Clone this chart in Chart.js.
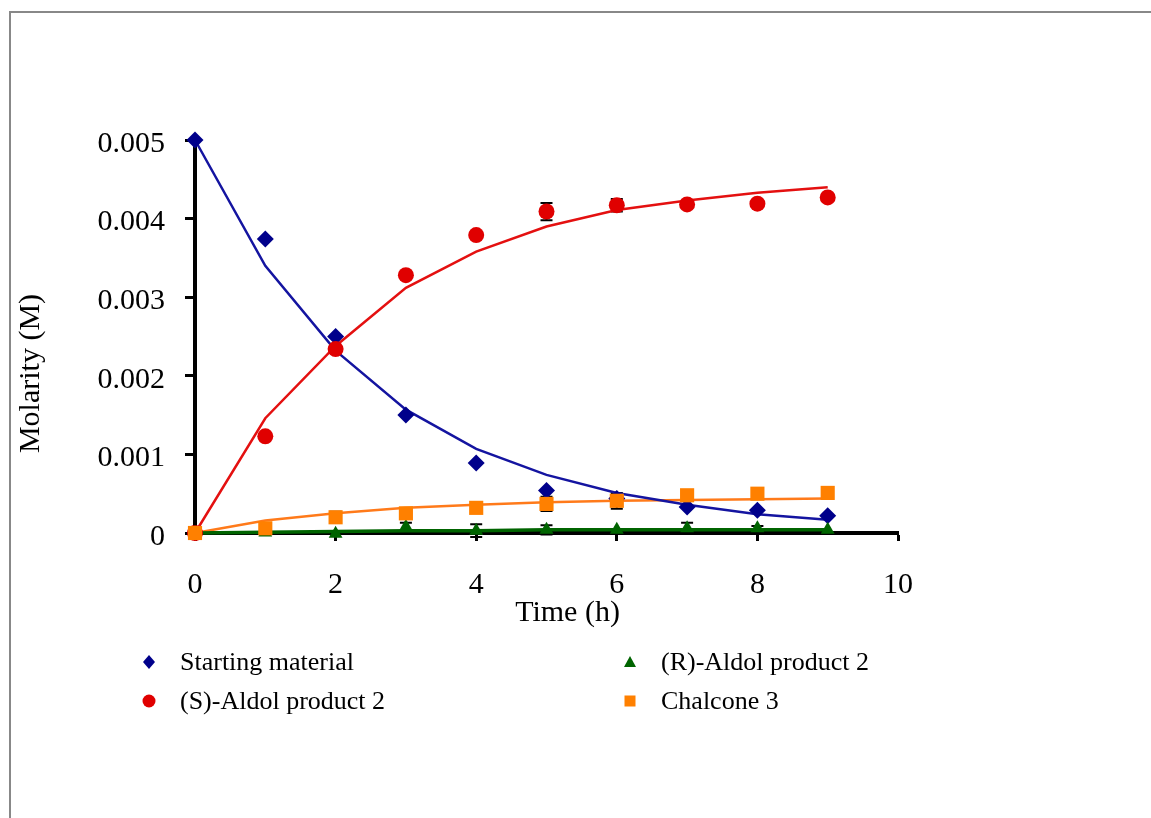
<!DOCTYPE html>
<html>
<head>
<meta charset="utf-8">
<script src="https://cdn.jsdelivr.net/npm/chart.js@4.4.1/dist/chart.umd.min.js"></script>
<style>
  html, body { margin:0; padding:0; background:#fff; overflow:hidden; width:1151px; height:818px; }
  #wrap { position:relative; width:1151px; height:818px; overflow:hidden; }
  #frame { position:absolute; left:9px; top:11px; width:1300px; height:1000px;
           border-left:2px solid #888; border-top:2px solid #888; }
  canvas { position:absolute; left:0; top:0; }
  .lg { position:absolute; font-family:'Liberation Serif','Times New Roman',serif; font-size:26px;
        color:#000; white-space:nowrap; line-height:30px; height:30px; }
  .lg svg { position:absolute; top:0; }
  .lg span { position:absolute; left:0; top:0; }
</style>
</head>
<body>
<div id="wrap">
  <div id="frame"></div>
  <canvas id="c" width="1151" height="818"></canvas>
  <div id="legend"></div>
</div>
<script>
// ---------------- data ----------------
const timeH = [0, 1, 2, 3, 4, 5, 6, 7, 8, 9];
const xTickLabels = ['0', '2', '4', '6', '8', '10'];
const yTickLabels = ['0', '0.001', '0.002', '0.003', '0.004', '0.005'];
const seriesNames = ['Starting material', '(S)-Aldol product 2', '(R)-Aldol product 2', 'Chalcone 3'];

const startingMaterial    = [0.00500, 0.00374, 0.00250, 0.00150, 0.00089, 0.00054, 0.00044, 0.00033, 0.00029, 0.00022];
const startingMaterialFit = [0.00500, 0.00340, 0.00232, 0.00157, 0.00107, 0.00074, 0.00051, 0.00036, 0.00024, 0.00017];
const startingMaterialErr = [0, 0, 0, 0, 0, 0, 0, 0, 0, 0];

const sAldol    = [0, 0.00123, 0.00234, 0.00328, 0.00379, 0.00409, 0.00417, 0.00418, 0.00419, 0.00427];
const sAldolFit = [0, 0.00146, 0.00238, 0.00312, 0.00358, 0.00390, 0.00411, 0.00423, 0.00433, 0.00440];
const sAldolErr = [0, 0, 0, 0, 0, 0.00011, 0.00008, 0, 0, 0];

const rAldol    = [0, 0.000005, -0.00001, 0.00008, 0.00003, 0.00004, 0.00004, 0.00006, 0.00006, 0.00004];
const rAldolFit = [0, 0.00001, 0.00002, 0.00003, 0.00003, 0.00004, 0.00004, 0.00004, 0.00004, 0.00004];
const rAldolErr = [0, 0, 0, 0.00005, 0.00008, 0.00006, 0, 0.00007, 0.00003, 0];

const chalcone    = [0, 0.00006, 0.00020, 0.00025, 0.00032, 0.00037, 0.00041, 0.00048, 0.00050, 0.00051];
const chalconeFit = [0, 0.00016, 0.00025, 0.00032, 0.00036, 0.00039, 0.00041, 0.00042, 0.00043, 0.00044];
const chalconeErr = [0, 0, 0.00007, 0, 0, 0.00009, 0.00010, 0, 0, 0];

// ---------------- styles ----------------
const FONT = "'Liberation Serif', 'Times New Roman', serif";
const markerColors = ['#00008B', '#E00000', '#006400', '#FF8000'];
const lineColors   = ['#1414A0', '#E41010', '#006400', '#FF7A1A'];
const lineWidths   = [2.5, 2.5, 3.5, 2.5];
const markerStyles = ['rectRot', 'circle', 'triangle', 'rect'];
const markerRadii  = [8.5, 8, 8, 10];

const pts = arr => timeH.map((t, i) => ({ x: t, y: arr[i] }));
const values = [startingMaterial, sAldol, rAldol, chalcone];
const fits   = [startingMaterialFit, sAldolFit, rAldolFit, chalconeFit];
const errs   = [startingMaterialErr, sAldolErr, rAldolErr, chalconeErr];
const markerOrder = [4, 3, 2, 1];   // lower order is drawn on top

const datasets = [];
fits.forEach((f, i) => datasets.push({
  type: 'line', label: seriesNames[i] + ' fit', data: pts(f),
  borderColor: lineColors[i], borderWidth: lineWidths[i], pointRadius: 0,
  tension: 0, fill: false, clip: false, order: 10 + i
}));
values.forEach((v, i) => datasets.push({
  type: 'scatter', label: seriesNames[i], data: pts(v), errors: errs[i],
  showLine: false, pointStyle: markerStyles[i], pointRadius: markerRadii[i],
  backgroundColor: markerColors[i], borderColor: markerColors[i], borderWidth: 0,
  clip: false, order: markerOrder[i]
}));

// error bars, drawn underneath the markers
const errorBars = {
  id: 'errorBars',
  beforeDatasetsDraw(chart) {
    const { ctx, scales: { x, y } } = chart;
    ctx.save();
    ctx.strokeStyle = '#000';
    ctx.lineWidth = 2;
    chart.data.datasets.forEach(ds => {
      if (!ds.errors) return;
      ds.data.forEach((p, i) => {
        const e = ds.errors[i];
        if (!e) return;
        const px = x.getPixelForValue(p.x);
        const y1 = y.getPixelForValue(p.y + e);
        const y2 = y.getPixelForValue(p.y - e);
        ctx.beginPath();
        ctx.moveTo(px, y1); ctx.lineTo(px, y2);
        ctx.moveTo(px - 6, y1); ctx.lineTo(px + 6, y1);
        ctx.moveTo(px - 6, y2); ctx.lineTo(px + 6, y2);
        ctx.stroke();
      });
    });
    ctx.restore();
  }
};

// axis titles (placed as in the original, offset from the axis middle)
const axisTitles = {
  id: 'axisTitles',
  afterDraw(chart) {
    const { ctx, chartArea } = chart;
    ctx.save();
    ctx.fillStyle = '#000';
    ctx.font = '30px ' + FONT;
    ctx.textAlign = 'center';
    ctx.textBaseline = 'middle';
    ctx.fillText('Time (h)', (chartArea.left + chartArea.right) / 2 + 21, chartArea.bottom + 80);
    ctx.translate(31, (chartArea.top + chartArea.bottom) / 2 + 37);
    ctx.rotate(-Math.PI / 2);
    ctx.fillText('Molarity (M)', 0, 0);
    ctx.restore();
  }
};

new Chart(document.getElementById('c'), {
  type: 'scatter',
  data: { datasets },
  options: {
    responsive: false,
    animation: false,
    events: [],
    layout: { padding: { left: 0, top: 140, right: 253, bottom: 225 } },
    plugins: { legend: { display: false }, tooltip: { enabled: false } },
    scales: {
      x: {
        type: 'linear', min: 0, max: 10,
        ticks: { stepSize: 2, color: '#000', font: { family: FONT, size: 30 }, padding: 26,
                 callback: v => xTickLabels[Math.round(v / 2)] },
        grid: { drawOnChartArea: false, drawTicks: true, tickLength: 8, tickWidth: 3, tickColor: '#000' },
        border: { color: '#000', width: 4 },
        afterFit(s) { s.height = 60; }
      },
      y: {
        type: 'linear', min: 0, max: 0.005,
        ticks: { stepSize: 0.001, color: '#000', font: { family: FONT, size: 30 }, padding: 20,
                 labelOffset: 4,
                 callback: v => yTickLabels[Math.round(v / 0.001)] },
        grid: { drawOnChartArea: false, drawTicks: true, tickLength: 10, tickWidth: 3, tickColor: '#000' },
        border: { color: '#000', width: 4 },
        afterFit(s) { s.width = 195; }
      }
    }
  },
  plugins: [errorBars, axisTitles]
});

// ---------------- HTML legend ----------------
const legendPos = [ { x: 140, y: 647 }, { x: 140, y: 686 }, { x: 621, y: 647 }, { x: 621, y: 686 } ];
const legendShapes = {
  rectRot: c => `<polygon points="9,2 15,9 9,16 3,9" fill="${c}"/>`,
  circle:  c => `<circle cx="9" cy="9" r="6.5" fill="${c}"/>`,
  triangle:c => `<polygon points="9,3 15,14 3,14" fill="${c}"/>`,
  rect:    c => `<rect x="3.5" y="3.5" width="11" height="11" fill="${c}"/>`
};
const lg = document.getElementById('legend');
seriesNames.forEach((name, i) => {
  const d = document.createElement('div');
  d.className = 'lg';
  d.style.left = legendPos[i].x + 'px';
  d.style.top = legendPos[i].y + 'px';
  d.innerHTML = `<svg width="18" height="18" style="left:0;top:6px">${legendShapes[markerStyles[i]](markerColors[i])}</svg>` +
                `<span style="left:40px">${name}</span>`;
  lg.appendChild(d);
});
</script>
</body>
</html>
